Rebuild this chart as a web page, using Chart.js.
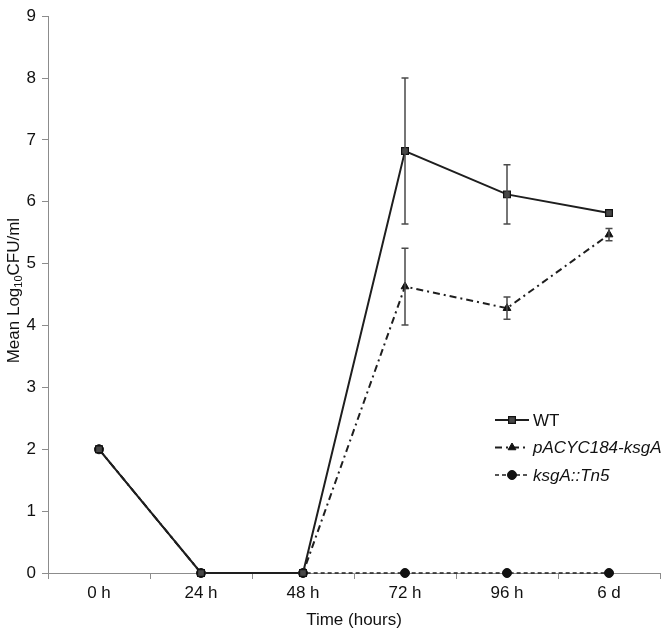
<!DOCTYPE html>
<html>
<head>
<meta charset="utf-8">
<script src="https://cdn.jsdelivr.net/npm/chart.js@4"></script>
<style>
  html, body { margin: 0; padding: 0; background: #fff; }
  #wrap { width: 666px; height: 631px; }
</style>
</head>
<body>
<div id="wrap"><canvas id="cfuChart" width="666" height="631"></canvas></div>
<script>
// ---- data ----
const timeLabels = ['0 h', '24 h', '48 h', '72 h', '96 h', '6 d'];
const wtMean   = [2, 0, 0, 6.82, 6.12, 5.82];
const wtErr    = [0, 0, 0, 1.18, 0.48, 0];
const compMean = [2, 0, 0, 4.63, 4.28, 5.47];
const compErr  = [0, 0, 0, 0.62, 0.18, 0.10];
const mutMean  = [2, 0, 0, 0, 0, 0];
const mutErr   = [0, 0, 0, 0, 0, 0];
const seriesNames = ['WT', 'pACYC184-ksgA', 'ksgA::Tn5'];

const FONT = 'Liberation Sans, Arial, sans-serif';
const axisGrey = '#8c8c8c';

// error bars drawn through the y scale
const errorBars = {
    id: 'errorBars',
    afterDatasetsDraw(chart) {
        const ctx = chart.ctx;
        const y = chart.scales.y;
        ctx.save();
        ctx.strokeStyle = '#4a4a4a';
        ctx.lineWidth = 1.5;
        chart.data.datasets.forEach((ds, i) => {
            const meta = chart.getDatasetMeta(i);
            meta.data.forEach((pt, j) => {
                const e = ds.errors[j];
                if (!e) return;
                const top = y.getPixelForValue(ds.data[j] + e);
                const bot = y.getPixelForValue(ds.data[j] - e);
                ctx.beginPath();
                ctx.moveTo(pt.x, top); ctx.lineTo(pt.x, bot);
                ctx.moveTo(pt.x - 3.5, top); ctx.lineTo(pt.x + 3.5, top);
                ctx.moveTo(pt.x - 3.5, bot); ctx.lineTo(pt.x + 3.5, bot);
                ctx.stroke();
            });
        });
        ctx.restore();
    }
};

// y title with subscript, and the line+marker legend
const extras = {
    id: 'extras',
    afterDraw(chart) {
        const ctx = chart.ctx;
        const area = chart.chartArea;
        ctx.save();
        // y axis title
        ctx.translate(14, (area.top + area.bottom) / 2 - 4);
        ctx.rotate(-Math.PI / 2);
        ctx.fillStyle = '#111';
        ctx.textBaseline = 'middle';
        const big = '17px ' + FONT, small = '11px ' + FONT;
        ctx.font = big;
        const w1 = ctx.measureText('Mean Log').width;
        const w3 = ctx.measureText('CFU/ml').width;
        ctx.font = small;
        const w2 = ctx.measureText('10').width;
        let x = -(w1 + w2 + w3) / 2;
        ctx.font = big; ctx.textAlign = 'left';
        ctx.fillText('Mean Log', x, 0); x += w1;
        ctx.font = small; ctx.fillText('10', x, 5); x += w2;
        ctx.font = big; ctx.fillText('CFU/ml', x, 0);
        ctx.restore();

        // legend
        const rows = [420, 447.5, 475];
        ctx.save();
        chart.data.datasets.forEach((ds, i) => {
            const yy = rows[i];
            ctx.strokeStyle = ds.borderColor;
            ctx.lineWidth = ds.borderWidth;
            ctx.setLineDash(ds.borderDash || []);
            ctx.beginPath();
            ctx.moveTo(495, yy); ctx.lineTo(529, yy);
            ctx.stroke();
            ctx.setLineDash([]);
            ctx.fillStyle = ds.pointBackgroundColor;
            ctx.strokeStyle = ds.pointBorderColor;
            ctx.lineWidth = ds.pointBorderWidth;
            Chart.helpers.drawPoint(ctx, {
                pointStyle: ds.pointStyle, radius: ds.pointRadius,
                borderWidth: ds.pointBorderWidth, rotation: 0
            }, 512, yy);
            ctx.fillStyle = '#111';
            ctx.font = (i === 0 ? '' : 'italic ') + '17px ' + FONT;
            ctx.textAlign = 'left';
            ctx.textBaseline = 'middle';
            ctx.fillText(seriesNames[i], 533, yy + 1);
        });
        ctx.restore();
    }
};

new Chart(document.getElementById('cfuChart'), {
    type: 'line',
    data: {
        labels: timeLabels,
        datasets: [
            {
                label: seriesNames[0], data: wtMean, errors: wtErr, clip: false,
                borderColor: '#1e1e1e', borderWidth: 2,
                pointStyle: 'rect', pointRadius: 4.8, pointBorderWidth: 1.2,
                pointBackgroundColor: '#474747', pointBorderColor: '#111'
            },
            {
                label: seriesNames[1], data: compMean, errors: compErr, clip: false,
                borderColor: '#1e1e1e', borderWidth: 2, borderDash: [7, 4, 2, 4],
                pointStyle: 'triangle', pointRadius: 4.5, pointBorderWidth: 1,
                pointBackgroundColor: '#111', pointBorderColor: '#111'
            },
            {
                label: seriesNames[2], data: mutMean, errors: mutErr, clip: false,
                borderColor: '#1e1e1e', borderWidth: 1.6, borderDash: [4, 3],
                pointStyle: 'circle', pointRadius: 4.5, pointBorderWidth: 1,
                pointBackgroundColor: '#111', pointBorderColor: '#111'
            }
        ]
    },
    options: {
        responsive: false,
        animation: false,
        events: [],
        layout: { padding: { top: 7, right: 2, left: 0, bottom: 0 } },
        plugins: { legend: { display: false }, tooltip: { enabled: false } },
        scales: {
            x: {
                offset: true,
                grid: { offset: true, drawOnChartArea: false, color: axisGrey, tickLength: 6 },
                border: { color: axisGrey, width: 1 },
                ticks: { color: '#111', font: { family: FONT, size: 17 }, padding: 4, maxRotation: 0 },
                title: { display: true, text: 'Time (hours)', color: '#111',
                         font: { family: FONT, size: 17 }, padding: { top: 1, bottom: 0 } },
                afterFit(s) { s.height = 58; }
            },
            y: {
                min: 0, max: 9,
                ticks: { stepSize: 1, color: '#111', font: { family: FONT, size: 17 }, padding: 6 },
                grid: { drawOnChartArea: false, color: axisGrey, tickLength: 6 },
                border: { color: axisGrey, width: 1 },
                afterFit(s) { s.width = 48; }
            }
        }
    },
    plugins: [errorBars, extras]
});
</script>
</body>
</html>
